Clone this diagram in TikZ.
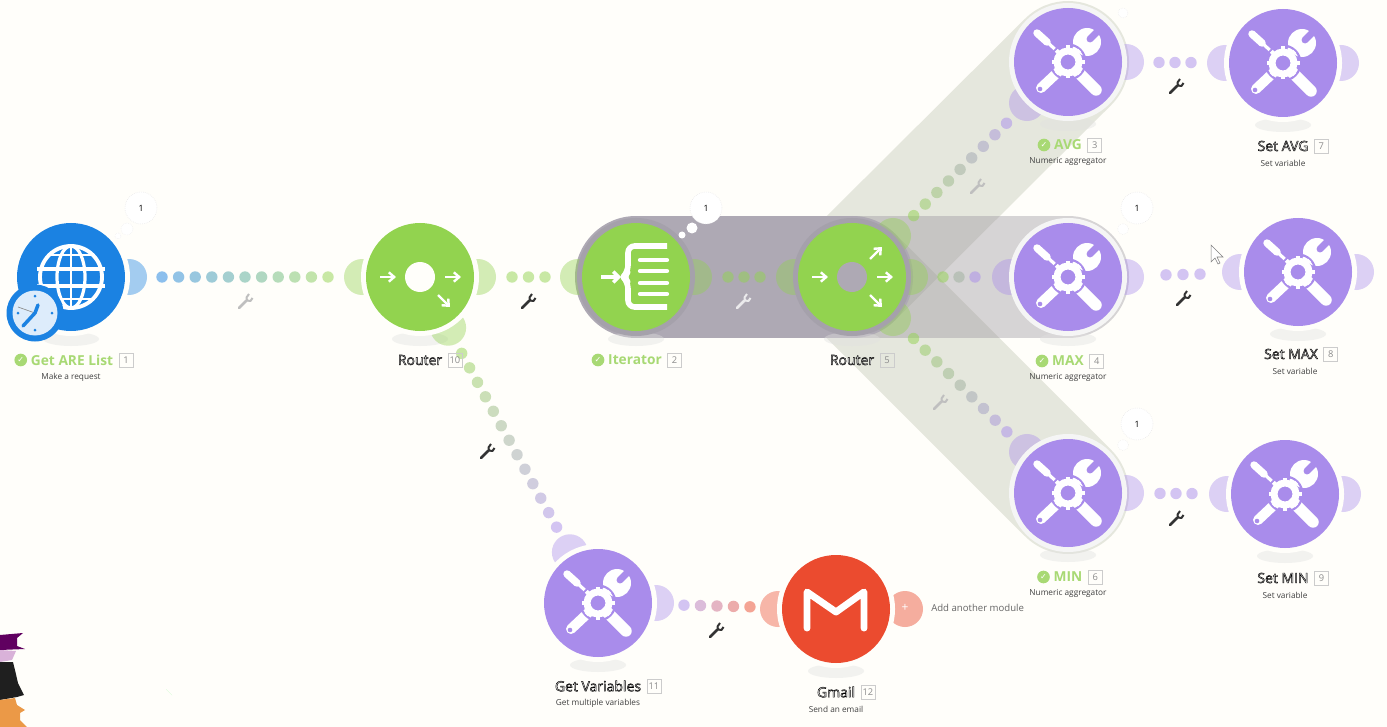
\documentclass[tikz,border=0pt]{standalone}
\usepackage{xcolor}
\usepackage{fontspec}
\setmainfont{Open Sans}
\newfontfamily\symfont{DejaVu Sans}
\usepackage{tikz}
\usetikzlibrary{arrows.meta,calc,positioning}

\definecolor{pagebg}{HTML}{FFFEFA}
\definecolor{httpblue}{HTML}{1B82E2}
\definecolor{flowgreen}{HTML}{92D34F}
\definecolor{toolpurple}{HTML}{A98CEB}
\definecolor{gmailred}{HTML}{EB4B2F}
\definecolor{okgreen}{HTML}{A8D974}
\definecolor{bandgray}{HTML}{AEA9B4}
\definecolor{fangray}{HTML}{9AA38A}

\pgfdeclarelayer{bands}
\pgfdeclarelayer{ports}
\pgfsetlayers{bands,ports,main}

\tikzset{
	module/.style={circle,minimum size=81pt,inner sep=0pt,outer sep=0pt},
	bubble/.style={circle,minimum size=24pt,inner sep=0pt,fill=white,draw=black!10,densely dotted,font=\fontsize{6.5}{8}\selectfont},
	titleok/.style={inner sep=0pt,text=okgreen,font=\fontsize{10.3}{12}\selectfont\bfseries},
	titlerun/.style={inner sep=0pt,text=white,font=\fontsize{10.5}{12}\selectfont},
	subtitle/.style={inner sep=0pt,text=black!75,font=\fontsize{6.2}{8}\selectfont},
	numbox/.style={draw=black!20,line width=.4pt,minimum size=10.5pt,inner sep=0pt,text=black!45,font=\fontsize{7}{8}\selectfont},
	checkmark/.style={circle,fill=okgreen,minimum size=9.5pt,inner sep=0pt,text=white,font=\symfont\fontsize{6}{6}\selectfont},
	band/.style={line width=91.5pt,line cap=round},
	wrenchdark/.style={draw=black!80},
	wrenchpale/.style={draw=black!25},
	wrenchicon/.pic={
		\draw[pic actions,line width=1.9pt,line cap=round] (-6,6) -- (1.5,-1.5);
		\draw[pic actions,line width=1.5pt,line join=round] (7.5,-4) -- (5.5,-1) -- (2,-1.5) -- (1.5,-4.5) -- (4,-8);
	},
	toolicon/.pic={
		\draw[white,line width=5.6pt,line cap=round] (-31,-29) -- (-21,-20);
		\draw[white,line width=2.4pt] (-22,-21) -- (-9,-9);
		\draw[white,line width=8.6pt,line cap=round] (9,9) -- (28,28);
		\draw[white,line width=7.5pt,line cap=round] (-10,10) -- (-27,26);
		\fill[toolpurple] (-28,27) circle (2.3);
		\draw[white,line width=6pt] (7,-11) -- (15,-19);
		\fill[white] (19,-20) circle (14);
		\draw[toolpurple,line width=5.2pt,line cap=round] (22,-23) -- (31,-32);
		\draw[toolpurple,line width=1.6pt] (0,0) circle (17.5);
		\draw[white,line width=5.2pt] (0,0) circle (11);
		\foreach \a in {0,45,...,315}
			\draw[white,line width=3pt] (\a:13) -- (\a:16.5);
	},
	routericon/.pic={
		\path[pic actions] (0,0) circle (15);
		\draw[white,line width=1.8pt,-{Straight Barb[length=4pt,width=7pt]}] (-40,0) -- (-24,0);
		\draw[white,line width=1.8pt,-{Straight Barb[length=4pt,width=7pt]}] (25,0) -- (41,0);
		\draw[white,line width=1.8pt,-{Straight Barb[length=4pt,width=7pt]}] (18,18) -- (30,30);
	},
	routerup/.pic={
		\draw[white,line width=1.8pt,-{Straight Barb[length=4pt,width=7pt]}] (18,-18) -- (30,-30);
	},
	iteratoricon/.pic={
		\draw[white,line width=2.6pt,-{Straight Barb[length=4pt,width=8pt]}] (-35,0) -- (-15,0);
		\draw[white,line width=4.2pt,line join=round,rounded corners=5pt] (31,-31) -- (-8,-31) -- (-8,-5) -- (-13,0) -- (-8,5) -- (-8,30) -- (31,30);
		\foreach \y in {-17,-6,6,17}
			\draw[white,line width=3.2pt,line cap=round] (4,\y) -- (31,\y);
	},
	gmailicon/.pic={
		\draw[white,line width=5.2pt,line cap=round,line join=round] (-29,19) -- (-29,-17) -- (0,3) -- (28,-17) -- (28,19);
	},
	globeicon/.pic={
		\draw[white,line width=2.9pt] (0,0) circle (31);
		\draw[white,line width=2.4pt] (0,0) ellipse (14 and 31);
		\draw[white,line width=2.2pt] (0,-31) -- (0,31);
		\draw[white,line width=3pt] (-34,-8) -- (34,-8);
		\draw[white,line width=3pt] (-34,9) -- (34,9);
		\draw[white,line width=2pt] (-22,-22) -- (22,-22);
		\draw[white,line width=2pt] (-22,22) -- (22,22);
	},
	clockicon/.pic={
		\fill[httpblue] (0,0) circle (28.5);
		\fill[httpblue!15] (0,0) circle (22.5);
		\foreach \a in {0,90,180,270}
			\fill[httpblue] (\a:17) circle (1.5);
		\draw[black!45,line width=.5pt] (0,0) -- (-17,-6);
		\draw[httpblue,line width=2.6pt,line cap=round] (3,-8) -- (0,0) -- (-12,13);
	}
}

% dots of a link: from, to, two colours, how many, first and last distance
\newcommand{\dotlink}[7]{
	\foreach \i in {1,...,#5} {
		\pgfmathsetmacro\dist{0.75*(#6+(\i-1)*(#7-#6)/(#5-1))}
		\pgfmathtruncatemacro\mix{100-100*(\i-1)/(#5-1)}
		\fill[#3!\mix!#4,opacity=.5] ($(#1)!\dist pt!(#2)$) circle (5.7);
	}
}
% ports and halo of a module: name, halo colour, port colour, port angles
\newcommand{\modring}[4]{
	\begin{pgfonlayer}{ports}
		\fill[black!12,opacity=.4] (#1.center) ++(0,62) ellipse (28 and 7);
		\foreach \a in {#4}
			\fill[#3,opacity=.4] (#1.center) ++(\a:58) circle (18);
		\fill[#2] (#1.center) circle (59);
	\end{pgfonlayer}
}
% label of a module: name, title position, title style, title, number
\newcommand{\modlabel}[5]{
	\node[#3] (#1title) at #2 {#4};
	\node[numbox,right=4pt of #1title] (#1num) {#5};
}
\newcommand{\outlined}[1]{{\special{pdf:code 2 Tr 0.35 w 0 0 0 RG}#1\special{pdf:code 0 Tr}}}

\begin{document}
\begin{tikzpicture}[x=0.75pt,y=-0.75pt]
	\begin{pgfonlayer}{bands}
		\fill[pagebg] (0,0) rectangle (1387,727);
	\end{pgfonlayer}
	\useasboundingbox (0,0) rectangle (1387,727);

	\node[module,fill=httpblue]   (getare)   at (71,277)   {};
	\node[module,fill=flowgreen]  (router10) at (420,277)  {};
	\node[module,fill=flowgreen]  (iterator) at (636,277)  {};
	\node[module,fill=flowgreen]  (router5)  at (852,277)  {};
	\node[module,fill=toolpurple] (avg)      at (1068,62)  {};
	\node[module,fill=toolpurple] (max)      at (1068,277) {};
	\node[module,fill=toolpurple] (min)      at (1068,493) {};
	\node[module,fill=toolpurple] (setavg)   at (1283,63)  {};
	\node[module,fill=toolpurple] (setmax)   at (1298,272) {};
	\node[module,fill=toolpurple] (setmin)   at (1285,494) {};
	\node[module,fill=toolpurple] (getvars)  at (598,603)  {};
	\node[module,fill=gmailred]   (gmail)    at (836,609)  {};

	\begin{pgfonlayer}{bands}
		\draw[band,draw=fangray,opacity=.25] (router5.center) -- (avg.center);
		\draw[band,draw=fangray,opacity=.25] (router5.center) -- (min.center);
		\draw[band,draw=bandgray!85!black,opacity=.38] (router5.center) -- (max.center);
		\draw[band,draw=bandgray] (iterator.center) -- (router5.center);
		\fill[gmailred,opacity=.45] (905,609) circle (18);
	\end{pgfonlayer}

	\modring{getare}{pagebg}{httpblue}{0}
	\modring{router10}{pagebg}{flowgreen}{180,0,61}
	\modring{iterator}{bandgray!95!black}{flowgreen}{180,0}
	\modring{router5}{bandgray!95!black}{flowgreen}{180,0,45,-45}
	\modring{avg}{black!4}{toolpurple}{135,0}
	\modring{max}{black!4}{toolpurple}{180,0}
	\modring{min}{black!4}{toolpurple}{225,0}
	\modring{setavg}{pagebg}{toolpurple}{180,0}
	\modring{setmax}{pagebg}{toolpurple}{180,0}
	\modring{setmin}{pagebg}{toolpurple}{180,0}
	\modring{getvars}{pagebg}{toolpurple}{241,0}
	\modring{gmail}{pagebg}{gmailred}{180}

	\dotlink{getare}{router10}{httpblue}{flowgreen}{11}{91}{257}
	\dotlink{router10}{iterator}{flowgreen}{flowgreen}{3}{92}{125}
	\dotlink{router10}{getvars}{flowgreen}{toolpurple}{13}{87}{285}
	\dotlink{iterator}{router5}{flowgreen}{flowgreen}{3}{92}{124}
	\dotlink{router5}{avg}{flowgreen}{toolpurple}{9}{87}{218}
	\dotlink{router5}{max}{flowgreen}{toolpurple}{3}{91}{123}
	\dotlink{router5}{min}{flowgreen}{toolpurple}{9}{87}{219}
	\dotlink{avg}{setavg}{toolpurple}{toolpurple}{3}{91}{123}
	\dotlink{max}{setmax}{toolpurple}{toolpurple}{3}{98}{132}
	\dotlink{min}{setmin}{toolpurple}{toolpurple}{3}{92}{124}
	\dotlink{getvars}{gmail}{toolpurple}{gmailred}{5}{86}{152}

	\pic at (getare) {globeicon};
	\pic at (35,313) {clockicon};
	\pic[fill=pagebg] at (router10) {routericon};
	\pic at (iterator) {iteratoricon};
	\pic[fill=bandgray] at (router5) {routericon};
	\pic at (router5) {routerup};
	\pic at (avg) {toolicon};
	\pic at (max) {toolicon};
	\pic at (min) {toolicon};
	\pic at (setavg) {toolicon};
	\pic at (setmax) {toolicon};
	\pic at (setmin) {toolicon};
	\pic at (getvars) {toolicon};
	\pic at (gmail) {gmailicon};

	\pic[wrenchpale] at (245,302) {wrenchicon};
	\pic[wrenchdark] at (528,302) {wrenchicon};
	\pic[draw=white!75!bandgray] at (743,302) {wrenchicon};
	\pic[wrenchpale] at (977,187) {wrenchicon};
	\pic[wrenchpale] at (940,403) {wrenchicon};
	\pic[wrenchdark] at (487,452) {wrenchicon};
	\pic[wrenchdark] at (1176,87) {wrenchicon};
	\pic[wrenchdark] at (1183,299) {wrenchicon};
	\pic[wrenchdark] at (1176,519) {wrenchicon};
	\pic[wrenchdark] at (716,631) {wrenchicon};

	\modlabel{getare}{(72,360)}{titleok}{Get ARE List}{1}
	\modlabel{router10}{(420,360)}{titlerun}{\outlined{Router}}{10}
	\modlabel{iterator}{(635,360)}{titleok}{Iterator}{2}
	\modlabel{router5}{(852,360)}{titlerun}{\outlined{Router}}{5}
	\modlabel{avg}{(1068,145)}{titleok}{AVG}{3}
	\modlabel{max}{(1068,361)}{titleok}{MAX}{4}
	\modlabel{min}{(1068,577)}{titleok}{MIN}{6}
	\modlabel{setavg}{(1283,146)}{titlerun}{\outlined{Set AVG}}{7}
	\modlabel{setmax}{(1291,354)}{titlerun}{\outlined{Set MAX}}{8}
	\modlabel{setmin}{(1283,578)}{titlerun}{\outlined{Set MIN}}{9}
	\modlabel{getvars}{(598,686)}{titlerun}{\outlined{Get Variables}}{11}
	\modlabel{gmail}{(836,692)}{titlerun}{\outlined{Gmail}}{12}

	\node[subtitle] (getaresub)  at (71,377)   {Make a request};
	\node[subtitle] (avgsub)     at (1068,161) {Numeric aggregator};
	\node[subtitle] (maxsub)     at (1068,377) {Numeric aggregator};
	\node[subtitle] (minsub)     at (1068,593) {Numeric aggregator};
	\node[subtitle] (setavgsub)  at (1283,163) {Set variable};
	\node[subtitle] (setmaxsub)  at (1295,371) {Set variable};
	\node[subtitle] (setminsub)  at (1285,595) {Set variable};
	\node[subtitle] (getvarssub) at (598,703)  {Get multiple variables};
	\node[subtitle] (gmailsub)   at (836,709)  {Send an email};

	\node[checkmark,left=2.5pt of getaretitle] (getarecheck) {✓};
	\node[checkmark,left=2.5pt of iteratortitle] (iteratorcheck) {✓};
	\node[checkmark,left=2.5pt of avgtitle] (avgcheck) {✓};
	\node[checkmark,left=2.5pt of maxtitle] (maxcheck) {✓};
	\node[checkmark,left=2.5pt of mintitle] (mincheck) {✓};

	\node[bubble] (bubbleget) at (141,208) {1};
	\fill[white,draw=black!10,densely dotted,line width=.3pt] (127,229) circle (6);
	\fill[white,draw=black!10,densely dotted,line width=.3pt] (118,236) circle (3);
	\node[bubble] (bubbleiter) at (706,208) {1};
	\fill[white] (692,228) circle (5.5);
	\fill[white] (682,235) circle (3.5);
	\node[bubble] (bubblemax) at (1137,208) {1};
	\fill[white,draw=black!10,densely dotted,line width=.3pt] (1123,229) circle (5.5);
	\node[bubble] (bubblemin) at (1137,424) {1};
	\fill[white,draw=black!10,densely dotted,line width=.3pt] (1123,445) circle (5.5);
	\fill[white,draw=black!10,densely dotted,line width=.3pt] (1123,13) circle (5);

	\node[inner sep=0pt,text=white,font=\fontsize{9}{9}\selectfont] (addplus) at (905,608) {+};
	\node[inner sep=0pt,anchor=west,text=black!60,font=\fontsize{7.2}{9}\selectfont] (addtext) at (931,608) {Add another module};

	% mouse pointer and the corner of a photo
	\draw[fill=white,draw=black!50,line width=.4pt] (1211,245) -- (1211,262) -- (1215,258) -- (1218,264) -- (1220,263) -- (1217,257) -- (1223,257) -- cycle;
	\fill[black!5!green!30!white] (166,689) -- (170,693) -- (172,695) -- (168,691) -- cycle;
	\fill[violet!75!black] (0,635) -- (23,633) -- (17,638) -- (17,646) -- (25,649) -- (0,650) -- cycle;
	\fill[violet!30!white] (0,650) -- (16,651) -- (12,660) -- (0,662) -- cycle;
	\fill[black!88] (0,662) -- (13,662) -- (15,670) -- (18,683) -- (24,695) -- (17,697) -- (0,700) -- cycle;
	\fill[orange!60!brown!80!white] (0,700) -- (15,698) -- (17,705) -- (25,710) -- (20,713) -- (20,720) -- (27,727) -- (0,727) -- cycle;
\end{tikzpicture}
\end{document}
